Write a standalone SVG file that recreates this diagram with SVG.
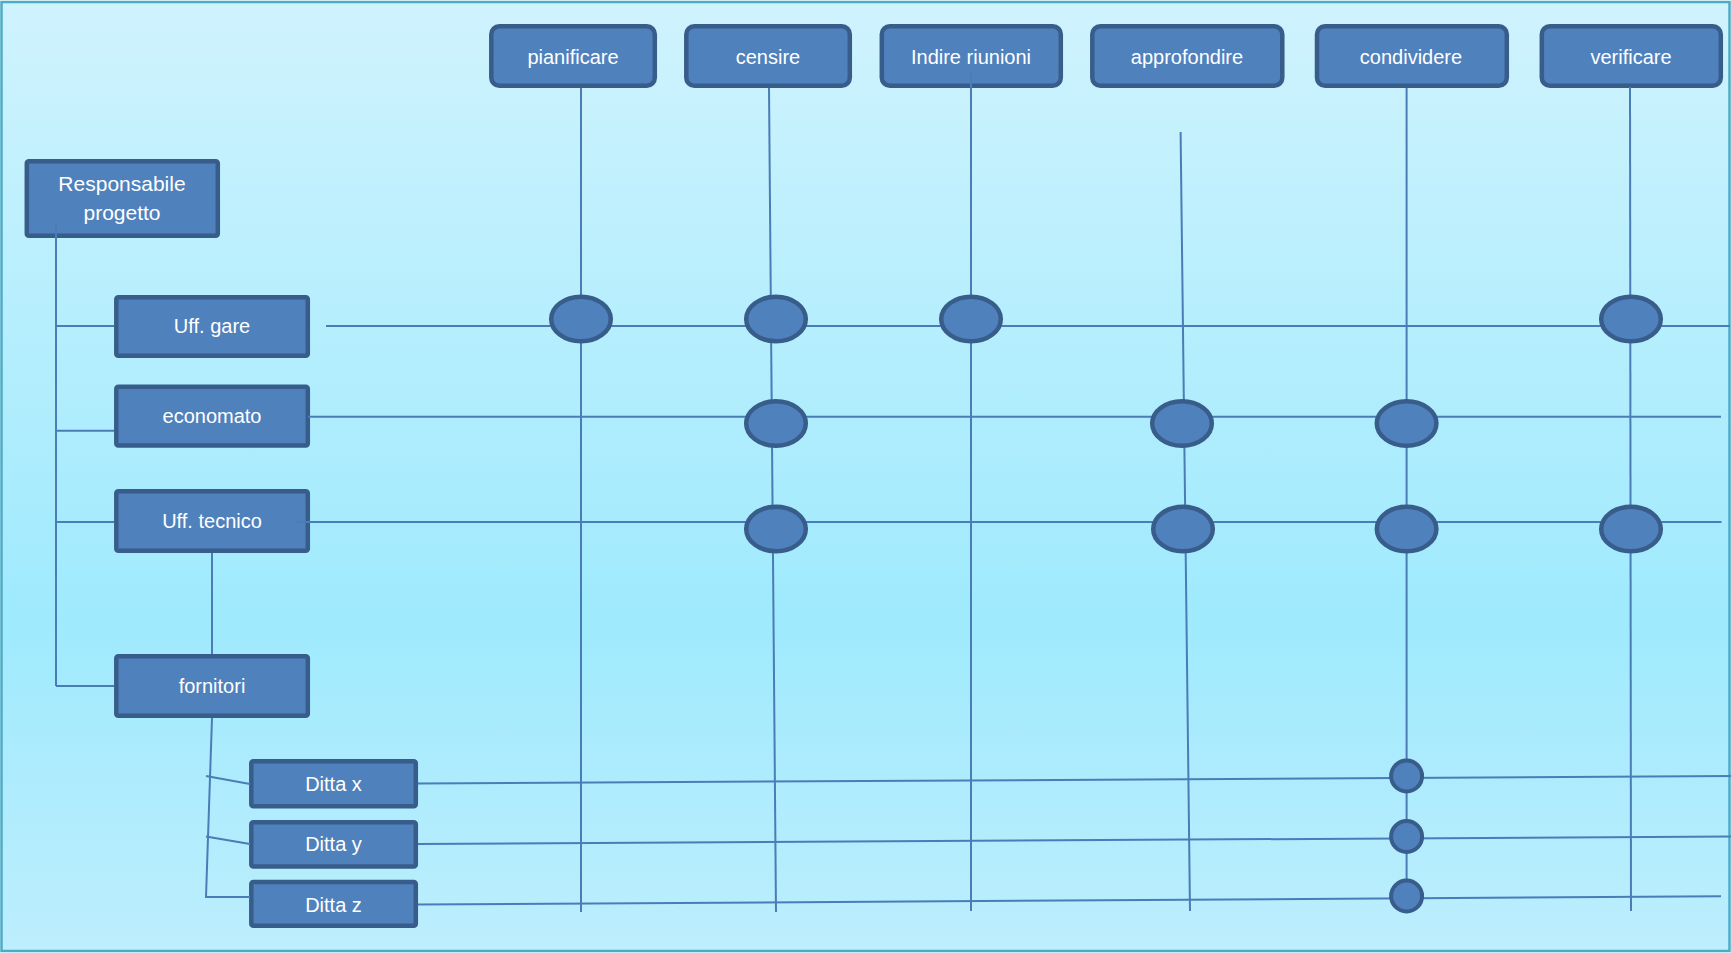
<svg xmlns="http://www.w3.org/2000/svg" width="1731" height="953" viewBox="0 0 1731 953">
<defs>
<linearGradient id="bg" x1="0" y1="0" x2="0" y2="1">
<stop offset="0" stop-color="#cff3fd"/>
<stop offset="0.65" stop-color="#9feafd"/>
<stop offset="1" stop-color="#bdeefd"/>
</linearGradient>
<style>
.box{fill:#4f81bd;stroke:#385d8a;stroke-width:4.5}
.dot{fill:#4f81bd;stroke:#385d8a;stroke-width:4.5}
.sdot{fill:#4f81bd;stroke:#385d8a;stroke-width:4}
.lbl{font-family:"Liberation Sans",Arial,sans-serif;font-size:20px;fill:#ffffff;text-anchor:middle}
.conn line,.conn polyline{stroke:#4a7cb8;stroke-width:2;fill:none}
</style>
</defs>
<rect x="1.5" y="2" width="1728" height="949" fill="url(#bg)" stroke="#4bacc6" stroke-width="2.5"/>

<g id="pianificare"><rect class="box" x="491.3" y="26.3" width="163.5" height="59.5" rx="8"/><text class="lbl" x="573" y="64">pianificare</text></g>
<g id="censire"><rect class="box" x="686.3" y="26.3" width="163.5" height="59.5" rx="8"/><text class="lbl" x="768" y="64">censire</text></g>
<g id="indire"><rect class="box" x="881.8" y="26.3" width="179" height="59.5" rx="8"/><text class="lbl" x="971" y="64">Indire riunioni</text></g>
<g id="approfondire"><rect class="box" x="1092.3" y="26.3" width="190" height="59.5" rx="8"/><text class="lbl" x="1187" y="64">approfondire</text></g>
<g id="condividere"><rect class="box" x="1317" y="26.3" width="189.8" height="59.5" rx="8"/><text class="lbl" x="1411" y="64">condividere</text></g>
<g id="verificare"><rect class="box" x="1541.8" y="26.3" width="179" height="59.5" rx="8"/><text class="lbl" x="1631" y="64">verificare</text></g>

<g id="responsabile"><rect class="box" x="26.8" y="161.3" width="191" height="74.5" rx="2"/><text class="lbl" x="122" y="191" style="font-size:21px">Responsabile</text><text class="lbl" x="122" y="220" style="font-size:21px">progetto</text></g>
<g id="uff-gare"><rect class="box" x="116.3" y="297.3" width="191.5" height="58.5" rx="2"/><text class="lbl" x="212" y="333">Uff. gare</text></g>
<g id="economato"><rect class="box" x="116.3" y="386.8" width="191.5" height="58.7" rx="2"/><text class="lbl" x="212" y="423">economato</text></g>
<g id="uff-tecnico"><rect class="box" x="116.3" y="491.3" width="191.5" height="59.5" rx="2"/><text class="lbl" x="212" y="528">Uff. tecnico</text></g>
<g id="fornitori"><rect class="box" x="116.3" y="656.3" width="191.5" height="59.5" rx="2"/><text class="lbl" x="212" y="693">fornitori</text></g>
<g id="ditta-x"><rect class="box" x="251.3" y="761.3" width="164.5" height="45" rx="2"/><text class="lbl" x="333.5" y="790.5">Ditta x</text></g>
<g id="ditta-y"><rect class="box" x="251.3" y="822.3" width="164.5" height="44.2" rx="2"/><text class="lbl" x="333.5" y="851">Ditta y</text></g>
<g id="ditta-z"><rect class="box" x="251.3" y="882" width="164.5" height="43.8" rx="2"/><text class="lbl" x="333.5" y="911.5">Ditta z</text></g>

<g id="connectors" class="conn">
<line x1="56" y1="222" x2="56" y2="686"/>
<line x1="56" y1="326" x2="114" y2="326"/>
<line x1="56" y1="430.7" x2="114" y2="430.7"/>
<line x1="56" y1="522" x2="114" y2="522"/>
<line x1="56" y1="686" x2="114" y2="686"/>
<line x1="212" y1="553" x2="212" y2="654"/>
<polyline points="212,718 206,897 250,897"/>
<line x1="206" y1="776" x2="250" y2="784"/>
<line x1="206" y1="836.5" x2="250" y2="844"/>
<line x1="326" y1="326" x2="1730" y2="326"/>
<line x1="308" y1="416.7" x2="1721" y2="416.7"/>
<line x1="297" y1="522" x2="1721.5" y2="522"/>
<line x1="418" y1="783.6" x2="1731" y2="776"/>
<line x1="418" y1="844" x2="1731" y2="836.5"/>
<line x1="418" y1="904.6" x2="1721" y2="896.3"/>
<line x1="581" y1="88" x2="581" y2="912"/>
<line x1="769" y1="88" x2="776" y2="912"/>
<line x1="971" y1="73" x2="971" y2="911"/>
<line x1="1180.6" y1="132" x2="1190" y2="911"/>
<line x1="1406.6" y1="88" x2="1406.6" y2="885"/>
<line x1="1630" y1="87" x2="1631" y2="911"/>
</g>

<g id="m-gare-pianificare"><ellipse class="dot" cx="581" cy="319" rx="29.8" ry="22.3"/></g>
<g id="m-gare-censire"><ellipse class="dot" cx="776" cy="319" rx="29.8" ry="22.3"/></g>
<g id="m-gare-indire"><ellipse class="dot" cx="971" cy="319" rx="29.8" ry="22.3"/></g>
<g id="m-gare-verificare"><ellipse class="dot" cx="1631" cy="319" rx="29.8" ry="22.3"/></g>
<g id="m-eco-censire"><ellipse class="dot" cx="776" cy="423.5" rx="29.8" ry="22.3"/></g>
<g id="m-eco-approfondire"><ellipse class="dot" cx="1182" cy="423.5" rx="29.8" ry="22.3"/></g>
<g id="m-eco-condividere"><ellipse class="dot" cx="1406.6" cy="423.5" rx="29.8" ry="22.3"/></g>
<g id="m-tec-censire"><ellipse class="dot" cx="776" cy="529" rx="29.8" ry="22.3"/></g>
<g id="m-tec-approfondire"><ellipse class="dot" cx="1183" cy="529" rx="29.8" ry="22.3"/></g>
<g id="m-tec-condividere"><ellipse class="dot" cx="1406.6" cy="529" rx="29.8" ry="22.3"/></g>
<g id="m-tec-verificare"><ellipse class="dot" cx="1631" cy="529" rx="29.8" ry="22.3"/></g>
<g id="m-x-condividere"><circle class="sdot" cx="1406.6" cy="776" r="15.5"/></g>
<g id="m-y-condividere"><circle class="sdot" cx="1406.6" cy="836.5" r="15.5"/></g>
<g id="m-z-condividere"><circle class="sdot" cx="1406.6" cy="896" r="15.5"/></g>
</svg>
